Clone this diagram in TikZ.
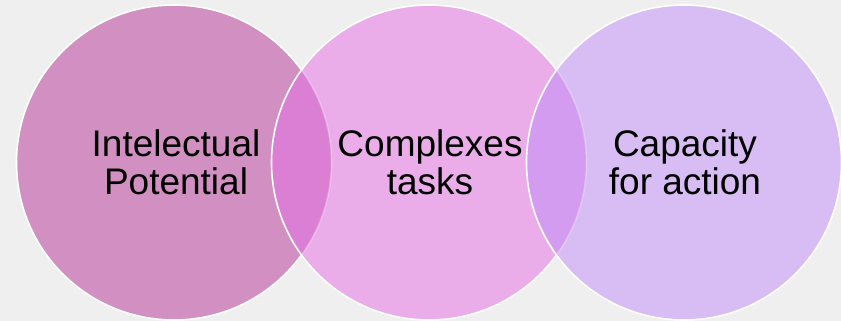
\documentclass[tikz,border=0pt]{standalone}
\usepackage{fontspec}
\setmainfont{Liberation Sans}
\definecolor{bgc}{HTML}{EFEFEF}
\definecolor{cA}{HTML}{D190C1}
\definecolor{cB}{HTML}{EAADE9}
\definecolor{cC}{HTML}{D7BDF3}
\definecolor{iAB}{HTML}{DA7FD3}
\definecolor{iBC}{HTML}{D49CF0}
\begin{document}
\begin{tikzpicture}[x=1pt,y=1pt,
  ring/.style={draw=white,line width=1.6pt},
  faint/.style={draw=white,draw opacity=0.3,line width=1.6pt},
  lbl/.style={text=black,font=\fontsize{37}{38}\selectfont,align=center,inner sep=0pt}]
\fill[bgc] (0,0) rectangle (841,-321);
\useasboundingbox (0,0) rectangle (841,-321);
\def\R{157.5}
\coordinate (ca) at (174,-162.5);
\coordinate (cb) at (429,-162.5);
\coordinate (cc) at (684,-162.5);
% circle 1
\fill[cA] (ca) circle (\R);
\draw[ring] (ca) circle (\R);
% circle 2
\fill[cB] (cb) circle (\R);
\begin{scope}
  \clip (ca) circle (\R);
  \fill[iAB] (cb) circle (\R);
\end{scope}
\begin{scope}
  \clip (cb) circle (\R);
  \draw[faint] (ca) circle (\R);
\end{scope}
\draw[ring] (cb) circle (\R);
% circle 3
\fill[cC] (cc) circle (\R);
\begin{scope}
  \clip (cb) circle (\R);
  \fill[iBC] (cc) circle (\R);
\end{scope}
\begin{scope}
  \clip (cc) circle (\R);
  \draw[faint] (cb) circle (\R);
\end{scope}
\draw[ring] (cc) circle (\R);
% labels
\node[lbl] (ta) at (176,-162) {Intelectual\\Potential};
\node[lbl] (tb) at (430,-162) {Complexes\\tasks};
\node[lbl] (tc) at (685,-162) {Capacity\\for action};
\end{tikzpicture}
\end{document}
